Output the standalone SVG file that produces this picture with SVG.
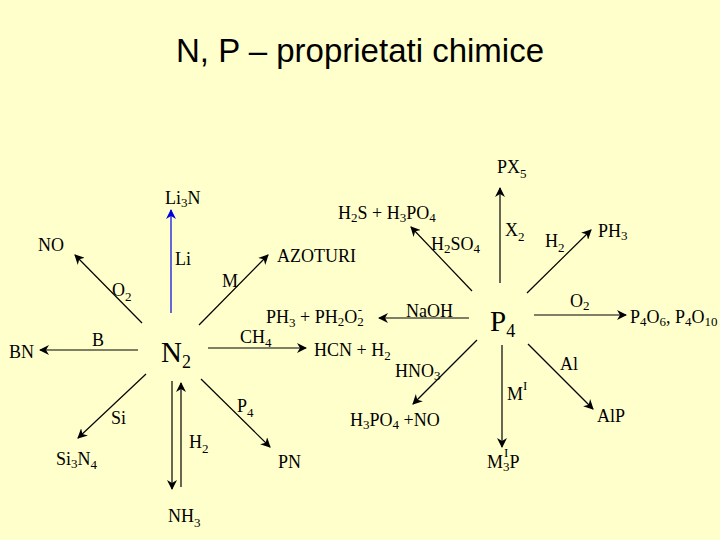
<svg xmlns="http://www.w3.org/2000/svg" width="720" height="540" viewBox="0 0 720 540">
<defs>
<marker id="a" viewBox="0 0 10 10" refX="9" refY="5" markerWidth="10" markerHeight="10" markerUnits="userSpaceOnUse" orient="auto"><path d="M0,0 L10,5 L0,10 L3,5 Z" fill="#000"/></marker>
<marker id="b" viewBox="0 0 10 10" refX="9" refY="5" markerWidth="10" markerHeight="10" markerUnits="userSpaceOnUse" orient="auto"><path d="M0,0 L10,5 L0,10 L3,5 Z" fill="#0000e0"/></marker>
<style>
text{font-family:"Liberation Serif",serif;font-size:18px;fill:#000}
.t{font-family:"Liberation Sans",sans-serif;font-size:33px}
.c{font-size:29px}
.s{font-size:13px}
line{stroke:#000;stroke-width:1.2;marker-end:url(#a)}
</style>
</defs>
<rect width="720" height="540" fill="#FFFFCC"/>
<text class="t" x="360" y="62" text-anchor="middle">N, P – proprietati chimice</text>
<g id="connectors">
<line x1="171" y1="313" x2="171" y2="210" style="stroke:#0000e0;marker-end:url(#b)"/>
<line x1="142" y1="323" x2="75" y2="255"/>
<line x1="199" y1="325" x2="268" y2="255"/>
<line x1="138" y1="350" x2="40" y2="350"/>
<line x1="208" y1="348" x2="306" y2="348"/>
<line x1="146" y1="374" x2="78" y2="438"/>
<line x1="172" y1="381" x2="172" y2="489"/>
<line x1="181" y1="487" x2="181" y2="383"/>
<line x1="201" y1="379" x2="270" y2="447"/>
<line x1="500" y1="283" x2="500" y2="188"/>
<line x1="472" y1="291" x2="411" y2="227"/>
<line x1="527" y1="293" x2="591" y2="230"/>
<line x1="469" y1="318" x2="379" y2="318"/>
<line x1="534" y1="315" x2="626" y2="315"/>
<line x1="477" y1="340" x2="413" y2="404"/>
<line x1="502" y1="345" x2="502" y2="447"/>
<line x1="528" y1="344" x2="593" y2="409"/>
</g>
<g id="N2"><text class="c" x="161" y="362">N<tspan style="font-size:18px" dy="6">2</tspan></text></g>
<g id="P4"><text class="c" x="490" y="331">P<tspan style="font-size:18px" dy="6">4</tspan></text></g>
<g id="labels">
<text x="165" y="204">Li<tspan class="s" dy="3">3</tspan><tspan dy="-3">N</tspan></text>
<text x="175" y="265">Li</text>
<text x="38" y="251">NO</text>
<text x="112" y="296">O<tspan class="s" dy="5">2</tspan></text>
<text x="222" y="287">M</text>
<text x="277" y="262">AZOTURI</text>
<text x="9" y="358">BN</text>
<text x="92" y="346">B</text>
<text x="240" y="343">CH<tspan class="s" dy="4">4</tspan></text>
<text x="314" y="356">HCN + H<tspan class="s" dy="4">2</tspan></text>
<text x="111" y="424">Si</text>
<text x="56" y="465">Si<tspan class="s" dy="3">3</tspan><tspan dy="-3">N</tspan><tspan class="s" dy="4">4</tspan></text>
<text x="189" y="448">H<tspan class="s" dy="5">2</tspan></text>
<text x="168" y="522">NH<tspan class="s" dy="5">3</tspan></text>
<text x="237" y="412">P<tspan class="s" dy="5">4</tspan></text>
<text x="278" y="468">PN</text>
<text x="497" y="173">PX<tspan class="s" dy="5">5</tspan></text>
<text x="505" y="236">X<tspan class="s" dy="5">2</tspan></text>
<text x="338" y="219">H<tspan class="s" dy="3">2</tspan><tspan dy="-3">S + H</tspan><tspan class="s" dy="3">3</tspan><tspan dy="-3">PO</tspan><tspan class="s" dy="3">4</tspan></text>
<text x="431" y="250">H<tspan class="s" dy="3">2</tspan><tspan dy="-3">SO</tspan><tspan class="s" dy="3">4</tspan></text>
<text x="545" y="247">H<tspan class="s" dy="5">2</tspan></text>
<text x="598" y="237">PH<tspan class="s" dy="3">3</tspan></text>
<text x="406" y="317">NaOH</text>
<text x="266" y="323">PH<tspan class="s" dy="4">3</tspan><tspan dy="-4"> + PH</tspan><tspan class="s" dy="3">2</tspan><tspan dy="-3">O</tspan><tspan class="s" dy="3">2</tspan><tspan class="s" dx="-6" dy="-12">-</tspan></text>
<text x="570" y="307">O<tspan class="s" dy="3">2</tspan></text>
<text x="630" y="323">P<tspan class="s" dy="3">4</tspan><tspan dy="-3">O</tspan><tspan class="s" dy="3">6</tspan><tspan dy="-3">, P</tspan><tspan class="s" dy="3">4</tspan><tspan dy="-3">O</tspan><tspan class="s" dy="3">10</tspan></text>
<text x="395" y="377">HNO<tspan class="s" dy="3">3</tspan></text>
<text x="350" y="426">H<tspan class="s" dy="3">3</tspan><tspan dy="-3">PO</tspan><tspan class="s" dy="3">4</tspan><tspan dy="-3"> +NO</tspan></text>
<text x="507" y="400">M<tspan class="s" dy="-10">I</tspan></text>
<text x="487" y="468">M<tspan class="s" dy="3">3</tspan><tspan dy="-3">P</tspan></text>
<text class="s" x="504" y="457">I</text>
<text x="560" y="370">Al</text>
<text x="597" y="422">AlP</text>
</g>
</svg>
